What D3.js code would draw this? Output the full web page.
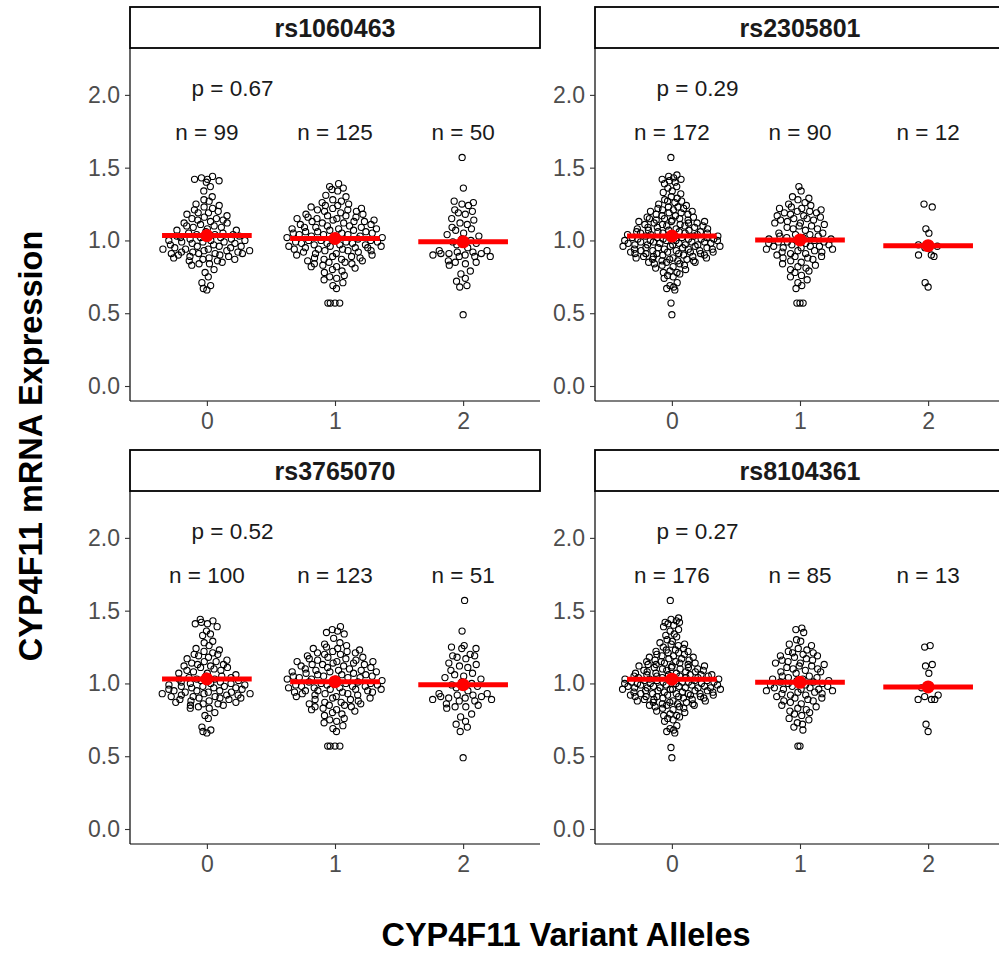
<!DOCTYPE html>
<html>
<head>
<meta charset="utf-8">
<script src="https://cdn.jsdelivr.net/npm/d3@7"></script>
<style>
  body { margin: 0; background: #fff; }
  svg { display: block; font-family: "Liberation Sans", Arial, sans-serif; }
</style>
</head>
<body>
<div id="viz"></div>
<script>
// categories / labels
const alleles = ["0", "1", "2"];
const snps = ["rs1060463", "rs2305801", "rs3765070", "rs8104361"];
const pValues = ["0.67", "0.29", "0.52", "0.27"];
const yTicks = [0, 0.5, 1, 1.5, 2];

// expression values per genotype
const rs1060463_0 = [1.44,1.43,1.42,1.42,1.41,1.40, 1.37,1.34, 1.30,1.28,1.27,1.25,
  1.24,1.23,1.22,1.21,1.20,1.19,1.19,1.18,1.17,1.16,
  1.15,1.15,1.14,1.14,1.13,1.12,1.12,1.11,1.10,1.10,1.09,1.09,1.08,1.07,1.07,1.06,
  1.05,1.05,1.04,1.04,1.04,1.03,1.03,1.02,1.02,1.02,
  1.01,1.01,1.00,1.00,1.00,0.99,0.99,0.99,0.98,0.98,0.97,0.97,0.96,0.96,0.96,0.95,0.95,
  0.94,0.94,0.94,0.93,0.93,0.93,0.92,0.92,0.92,0.91,0.91,0.91,0.91,
  0.90,0.90,0.89,0.89,0.88,0.88,0.87,0.87,0.86,0.86,0.85,0.84,0.84,0.83,
  0.80,0.78,0.75, 0.71,0.69,0.67,0.66];
const rs1060463_1 = [1.39,1.37,1.36,1.35,1.34, 1.31,1.30,1.28,1.27,1.26,1.25,
  1.24,1.24,1.23,1.22,1.22,1.21,1.21,1.20,1.20,1.19,
  1.18,1.18,1.17,1.17,1.16,1.16,1.15,1.15,1.15,1.14,1.14,1.13,1.13,1.13,1.12,1.12,1.11,1.11,
  1.10,1.10,1.09,1.09,1.09,1.08,1.08,1.08,1.07,1.07,1.06,1.06,1.06,1.05,1.05,1.05,1.04,1.04,1.04,
  1.03,1.03,1.03,1.02,1.02,1.01,1.01,
  1.00,1.00,1.00,0.99,0.99,0.99,0.98,0.98,0.98,0.97,0.97,0.97,0.96,0.96,0.96,0.95,0.95,0.95,
  0.94,0.94,0.94,0.93,0.93,0.93,0.92,0.92,
  0.91,0.91,0.90,0.90,0.89,0.89,0.88,0.88,0.87,0.87,0.86,0.86,0.85,0.85,0.84,0.84,0.83,0.82,0.82,0.81,
  0.80,0.79,0.78,0.76,0.75,0.74,0.73,0.71, 0.69,0.67, 0.57,0.57,0.57,0.57];
const rs1060463_2 = [1.57, 1.36, 1.27,1.26,1.25,1.24, 1.21,1.20,1.19,1.18, 1.15,1.14,1.12,1.11,
  1.09,1.08,1.07,1.05,1.04,1.03, 1.01,1.00,0.99,0.98,0.97, 0.95,
  0.93,0.93,0.92,0.92,0.91,0.91,0.91,0.90,0.90,0.89,0.89,0.89,
  0.86,0.85,0.85,0.84,0.83, 0.79,0.77, 0.74,0.72,0.69,0.68, 0.49];

const rs2305801_0 = [1.57, 1.45,1.44,1.43,1.42,1.42,1.41,1.40,1.39, 1.37,1.36,1.34,1.33,1.32,
  1.30,1.29,1.28,1.27,1.27,1.26,1.25,1.24,
  1.23,1.23,1.22,1.22,1.21,1.21,1.20,1.20,1.19,1.19,1.18,1.18,1.17,1.17,1.16,1.16,
  1.15,1.15,1.15,1.14,1.14,1.14,1.13,1.13,1.13,1.12,1.12,1.12,1.11,1.11,1.11,1.10,1.10,1.10,
  1.09,1.09,1.09,1.08,1.08,1.08,
  1.07,1.07,1.07,1.06,1.06,1.06,1.06,1.05,1.05,1.05,1.05,1.04,1.04,1.04,1.04,
  1.03,1.03,1.03,1.03,1.02,1.02,1.02,1.02,1.01,1.01,1.01,1.01,1.01,
  1.00,1.00,1.00,1.00,1.00,0.99,0.99,0.99,0.99,0.98,0.98,0.98,0.98,0.97,0.97,0.97,0.97,0.97,
  0.96,0.96,0.96,0.96,0.95,0.95,0.95,0.95,0.94,0.94,0.94,0.94,0.93,0.93,0.93,0.93,
  0.92,0.92,0.92,0.92,0.91,0.91,0.91,0.91,0.91,
  0.90,0.90,0.90,0.89,0.89,0.89,0.88,0.88,0.88,0.87,0.87,0.87,0.86,0.86,0.86,0.85,0.85,0.85,
  0.84,0.84,0.83,0.83,
  0.82,0.81,0.80,0.79,0.78,0.78,0.77,0.76,0.75,0.74, 0.71,0.69,0.68,0.67,0.66, 0.57,0.49];
const rs2305801_1 = [1.37,1.34, 1.30,1.29,1.28,1.26,1.25,1.24,
  1.23,1.22,1.22,1.21,1.20,1.20,1.19,1.19,1.18,1.17,1.17,1.16,
  1.15,1.15,1.14,1.14,1.13,1.12,1.12,1.11,1.10,1.10,1.09,1.08,1.08,1.07,
  1.05,1.05,1.04,1.04,1.03,1.03,1.02,1.02,1.01,1.01,
  1.00,1.00,0.99,0.99,0.99,0.98,0.98,0.97,0.97,0.96,0.96,0.96,0.95,0.95,0.94,0.94,
  0.93,0.93,0.92,0.92,0.91,0.91,0.90,0.89,0.89,0.88,0.88,0.87,
  0.86,0.85,0.84,0.83,0.82,0.81,0.80,0.79, 0.78,0.76,0.75,0.73,0.71, 0.69,0.67, 0.57,0.57,0.57];
const rs2305801_2 = [1.25,1.23,1.08,1.05,0.97,0.95,0.96,0.90,0.89,0.90,0.71,0.68];

const rs3765070_0 = [1.44,1.43,1.42,1.41,1.41,1.39, 1.36,1.34,1.33, 1.29,1.28,1.26,
  1.24,1.23,1.22,1.21,1.20,1.20,1.19,1.18,1.17,1.16,
  1.15,1.15,1.14,1.13,1.13,1.12,1.12,1.11,1.11,1.10,1.09,1.09,1.08,1.07,1.07,1.06,
  1.05,1.05,1.04,1.04,1.03,1.03,1.03,1.02,1.02,1.01,
  1.01,1.00,1.00,1.00,0.99,0.99,0.98,0.98,0.98,0.97,0.97,0.97,0.96,0.96,0.95,0.95,0.95,
  0.94,0.94,0.94,0.93,0.93,0.93,0.92,0.92,0.92,0.91,0.91,0.91,0.90,0.90,0.90,
  0.89,0.89,0.88,0.88,0.87,0.87,0.86,0.86,0.85,0.85,0.84,0.83,0.83,
  0.80,0.78,0.76, 0.70,0.68,0.67,0.66];
const rs3765070_1 = [1.39,1.37,1.36,1.35,1.34, 1.31,1.28,1.27,1.26,1.25,
  1.24,1.24,1.23,1.22,1.22,1.21,1.21,1.20,1.20,1.19,
  1.18,1.18,1.17,1.17,1.16,1.16,1.15,1.15,1.15,1.14,1.14,1.13,1.13,1.13,1.12,1.12,1.11,1.11,
  1.10,1.10,1.09,1.09,1.09,1.08,1.08,1.08,1.07,1.07,1.06,1.06,1.06,1.05,1.05,1.05,1.04,1.04,1.04,
  1.03,1.03,1.03,1.02,1.02,1.01,1.01,
  1.00,1.00,1.00,0.99,0.99,0.99,0.98,0.98,0.98,0.97,0.97,0.97,0.96,0.96,0.96,0.95,0.95,0.95,
  0.94,0.94,0.94,0.93,0.93,0.93,0.92,0.92,
  0.91,0.91,0.90,0.90,0.89,0.89,0.88,0.87,0.87,0.86,0.86,0.85,0.85,0.84,0.84,0.83,0.82,0.82,0.81,
  0.80,0.79,0.78,0.76,0.75,0.74,0.73,0.71, 0.69,0.67, 0.57,0.57,0.57,0.57];
const rs3765070_2 = [1.57, 1.36, 1.26,1.25,1.24,1.24, 1.20,1.19,1.19,1.18,1.17, 1.14,1.13,1.12,1.11,
  1.09,1.07,1.06,1.05,1.04,1.03, 1.01,1.00,0.99,0.98,0.97, 0.95,
  0.93,0.93,0.92,0.92,0.91,0.91,0.90,0.90,0.89,0.89,0.88,0.88,
  0.86,0.85,0.84,0.84,0.83, 0.79,0.77, 0.74,0.72,0.70,0.67, 0.49];

const rs8104361_0 = [1.57, 1.45,1.44,1.43,1.42,1.42,1.41,1.40,1.39, 1.37,1.36,1.34,1.33,1.32,
  1.30,1.29,1.28,1.27,1.27,1.26,1.25,1.24,
  1.23,1.23,1.22,1.22,1.21,1.21,1.20,1.20,1.19,1.19,1.18,1.18,1.17,1.17,1.16,1.16,
  1.15,1.15,1.15,1.14,1.14,1.14,1.13,1.13,1.13,1.12,1.12,1.12,1.11,1.11,1.11,1.10,1.10,1.10,
  1.09,1.09,1.09,1.08,1.08,1.08,
  1.07,1.07,1.07,1.06,1.06,1.06,1.06,1.06,1.05,1.05,1.05,1.05,1.04,1.04,1.04,1.04,
  1.03,1.03,1.03,1.03,1.03,1.02,1.02,1.02,1.02,1.01,1.01,1.01,1.01,1.01,
  1.00,1.00,1.00,1.00,1.00,0.99,0.99,0.99,0.99,0.98,0.98,0.98,0.98,0.97,0.97,0.97,0.97,0.97,0.97,
  0.96,0.96,0.96,0.96,0.95,0.95,0.95,0.95,0.94,0.94,0.94,0.94,0.93,0.93,0.93,0.93,0.93,
  0.92,0.92,0.92,0.92,0.91,0.91,0.91,0.91,0.91,
  0.90,0.90,0.90,0.89,0.89,0.89,0.88,0.88,0.88,0.87,0.87,0.87,0.86,0.86,0.86,0.85,0.85,0.85,
  0.84,0.84,0.83,0.83,
  0.82,0.81,0.80,0.79,0.78,0.78,0.77,0.76,0.75,0.74, 0.71,0.69,0.68,0.67,0.66, 0.56,0.49];
const rs8104361_1 = [1.38,1.37,1.35, 1.30,1.29,1.27,1.26,1.24,
  1.23,1.22,1.21,1.21,1.20,1.19,1.19,1.18,1.17,1.16,1.16,
  1.15,1.14,1.14,1.13,1.12,1.12,1.11,1.10,1.10,1.09,1.08,1.08,1.07,
  1.05,1.05,1.04,1.04,1.03,1.03,1.02,1.02,1.01,1.01,
  1.00,1.00,0.99,0.99,0.98,0.98,0.97,0.97,0.96,0.96,0.96,0.95,0.95,0.94,0.94,
  0.93,0.93,0.92,0.92,0.91,0.90,0.90,0.89,0.88,0.88,0.87,
  0.86,0.85,0.84,0.83,0.82,0.81,0.80,0.79, 0.78,0.76,0.75,0.73,0.72,0.70,0.68, 0.57,0.57];
const rs8104361_2 = [1.26,1.25,1.13,1.12,1.07,0.97,0.92,0.91,0.89,0.89,0.89,0.72,0.67];

const groups = [
  [rs1060463_0, rs1060463_1, rs1060463_2],
  [rs2305801_0, rs2305801_1, rs2305801_2],
  [rs3765070_0, rs3765070_1, rs3765070_2],
  [rs8104361_0, rs8104361_1, rs8104361_2]
];

const W = 999, H = 953;
const pw = 410, ph = 353, stripH = 41;
const panelPos = [[130, 48], [595, 48], [130, 491], [595, 491]];

const svg = d3.select("#viz").append("svg")
  .attr("width", W).attr("height", H);

const x = d3.scaleLinear().domain([0.4, 3.6]).range([0, pw]);
const y = d3.scaleLinear().domain([-0.103, 2.322]).range([ph, 0]);
const unit = x(2) - x(1);

// van der Corput sequence, base 2
function vdc(i) {
  let v = 0, den = 1, n = i;
  while (n > 0) { den *= 2; v += (n % 2) / den; n = Math.floor(n / 2); }
  return v;
}

// quasirandom offsets, width scaled by group size within the panel
function quasi(vals, maxN) {
  const n = vals.length;
  const s = vals.slice().sort(d3.ascending);
  const sd = d3.deviation(vals);
  const iqr = d3.quantile(s, 0.75) - d3.quantile(s, 0.25);
  let lo = Math.min(sd, iqr / 1.34);
  if (!lo) lo = sd || 1;
  const bw = 0.9 * lo * Math.pow(n, -0.2) * 0.5;
  const kde = t => d3.sum(vals, v => Math.exp(-0.5 * ((t - v) / bw) ** 2));
  const lo0 = s[0] - 3 * bw, hi0 = s[n - 1] + 3 * bw;
  const maxD = d3.max(d3.range(1024), i => kde(lo0 + i * (hi0 - lo0) / 1023));
  const order = d3.range(n).sort((a, b) => vals[a] - vals[b] || a - b);
  const scale = Math.sqrt(n / maxN);
  const off = new Array(n);
  order.forEach((idx, r) => {
    off[idx] = (vdc(r + 1) - 0.5) * 2 * kde(vals[idx]) / maxD * scale;
  });
  return off;
}

snps.forEach((snp, p) => {
  const g = svg.append("g")
    .attr("transform", `translate(${panelPos[p][0]},${panelPos[p][1]})`);

  // strip
  g.append("rect")
    .attr("x", 0).attr("y", -stripH)
    .attr("width", pw).attr("height", stripH)
    .attr("fill", "#fff").attr("stroke", "#000").attr("stroke-width", 1.8);
  g.append("text")
    .attr("x", pw / 2).attr("y", -stripH / 2)
    .attr("dy", "0.36em")
    .attr("text-anchor", "middle")
    .style("font-size", "25px").style("font-weight", "bold")
    .style("fill", "#1a1a1a")
    .text(snp);

  // axes
  const yAxis = g.append("g")
    .call(d3.axisLeft(y).tickValues(yTicks).tickFormat(d3.format(".1f"))
      .tickSize(5).tickSizeOuter(0).tickPadding(5));
  const xAxis = g.append("g")
    .attr("transform", `translate(0,${ph})`)
    .call(d3.axisBottom(x).tickValues([1, 2, 3]).tickFormat((d, i) => alleles[i])
      .tickSize(5).tickSizeOuter(0).tickPadding(7));
  [yAxis, xAxis].forEach(a => {
    a.select(".domain").attr("stroke", "#000").attr("stroke-width", 1.2);
    a.selectAll(".tick line").attr("stroke", "#333").attr("stroke-width", 1.1);
    a.selectAll(".tick text").style("font-size", "23px")
      .style("font-family", "Liberation Sans, Arial, sans-serif").attr("fill", "#4d4d4d");
  });
  yAxis.select(".domain").attr("d", `M0,0V${ph}`);
  xAxis.select(".domain").attr("d", `M0,0H${pw}`);

  // points
  const maxN = d3.max(groups[p], v => v.length);
  groups[p].forEach((vals, k) => {
    const off = quasi(vals, maxN);
    g.append("g").selectAll("circle")
      .data(vals)
      .join("circle")
      .attr("cx", (d, i) => x(k + 1) + off[i] * 0.4 * unit)
      .attr("cy", d => y(d))
      .attr("r", 3.1)
      .attr("fill", "none")
      .attr("stroke", "#000")
      .attr("stroke-width", 1.1);
  });

  // mean bars
  groups[p].forEach((vals, k) => {
    const m = d3.mean(vals);
    g.append("line")
      .attr("x1", x(k + 1 - 0.35)).attr("x2", x(k + 1 + 0.35))
      .attr("y1", y(m)).attr("y2", y(m))
      .attr("stroke", "red").attr("stroke-width", 5);
    g.append("circle")
      .attr("cx", x(k + 1)).attr("cy", y(m))
      .attr("r", 6.5).attr("fill", "red");
  });

  // annotations
  g.append("text")
    .attr("x", x(1.2)).attr("y", y(2.05)).attr("dy", "0.38em")
    .attr("text-anchor", "middle")
    .style("font-size", "22.5px").style("fill", "#1a1a1a")
    .text("p = " + pValues[p]);
  groups[p].forEach((vals, k) => {
    g.append("text")
      .attr("x", x(k + 1)).attr("y", y(1.75)).attr("dy", "0.4em")
      .attr("text-anchor", "middle")
      .style("font-size", "22.5px").style("fill", "#1a1a1a")
      .text("n = " + vals.length);
  });
});

// axis titles
svg.append("text")
  .attr("x", 566).attr("y", 946)
  .attr("text-anchor", "middle")
  .style("font-size", "32.5px").style("font-weight", "bold")
  .text("CYP4F11 Variant Alleles");
svg.append("text")
  .attr("transform", "translate(42,446) rotate(-90)")
  .attr("text-anchor", "middle")
  .style("font-size", "32.5px").style("font-weight", "bold")
  .text("CYP4F11 mRNA Expression");
</script>
</body>
</html>
